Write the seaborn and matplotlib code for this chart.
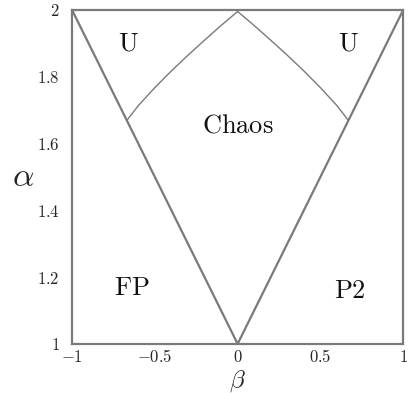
import numpy as np
import pandas as pd
import matplotlib
matplotlib.use("Agg")
import matplotlib.pyplot as plt
import seaborn as sns

# ── data ────────────────────────────────────────────────────────────────
# outer V boundary
v_beta  = [-1.0, 0.0, 1.0]
v_alpha = [2.0, 1.0, 2.0]

# upper boundary of the chaos region (right half; left is mirrored)
curve_beta  = [0.0, 0.1, 0.2, 0.3, 0.4, 0.5, 0.6, 0.667]
curve_alpha = [1.995, 1.953, 1.909, 1.864, 1.817, 1.767, 1.713, 1.670]

region_labels = ["U", "U", "Chaos", "FP", "P2"]
label_beta    = [-0.66, 0.67, 0.0, -0.64, 0.68]
label_alpha   = [1.90, 1.90, 1.655, 1.17, 1.16]

x_ticks = [-1, -0.5, 0, 0.5, 1]
x_tick_labels = ["$-1$", "$-0.5$", "$0$", "$0.5$", "$1$"]
y_ticks = [1, 1.2, 1.4, 1.6, 1.8, 2]
y_tick_labels = ["$1$", "$1.2$", "$1.4$", "$1.6$", "$1.8$", "$2$"]

# ── style ───────────────────────────────────────────────────────────────
sns.set_style("white")
plt.rcParams["mathtext.fontset"] = "cm"
plt.rcParams["font.family"] = ["DejaVu Serif"]

line_col = "#7a7a7a"

fig = plt.figure(figsize=(4.09, 3.93), dpi=100)
ax = fig.add_axes([0.176, 0.125, 0.810, 0.850])

v_df = pd.DataFrame({"beta": v_beta, "alpha": v_alpha})
sns.lineplot(data=v_df, x="beta", y="alpha", sort=False, color=line_col,
             lw=1.6, ax=ax)

right_df = pd.DataFrame({"beta": curve_beta, "alpha": curve_alpha})
left_df = pd.DataFrame({"beta": [-b for b in curve_beta], "alpha": curve_alpha})
for d in (left_df, right_df):
    sns.lineplot(data=d, x="beta", y="alpha", sort=False, color=line_col,
                 lw=1.0, ax=ax)

for lab, b, a in zip(region_labels, label_beta, label_alpha):
    ax.text(b, a, r"$\mathrm{%s}$" % lab, ha="center", va="center",
            fontsize=19, color="#111111")

ax.set_xlim(-1, 1)
ax.set_ylim(1, 2)
ax.set_xticks(x_ticks)
ax.set_xticklabels(x_tick_labels, fontsize=12)
ax.set_yticks(y_ticks)
ax.set_yticklabels(y_tick_labels, fontsize=12)
ax.tick_params(direction="in", length=5, width=1.0, color=line_col,
               top=False, right=False)
ax.tick_params(axis="y", pad=9)
ax.tick_params(axis="x", pad=4)
ax.set_xlabel(r"$\beta$", fontsize=18, va="center")
ax.set_ylabel(r"$\alpha$", fontsize=24, rotation=0, va="center", ha="center")
ax.xaxis.set_label_coords(0.5, -0.112)
ax.yaxis.set_label_coords(-0.147, 0.50)
for s in ax.spines.values():
    s.set_color(line_col)
    s.set_linewidth(1.6)
    s.set_visible(True)

fig.savefig("out.png", dpi=100)
